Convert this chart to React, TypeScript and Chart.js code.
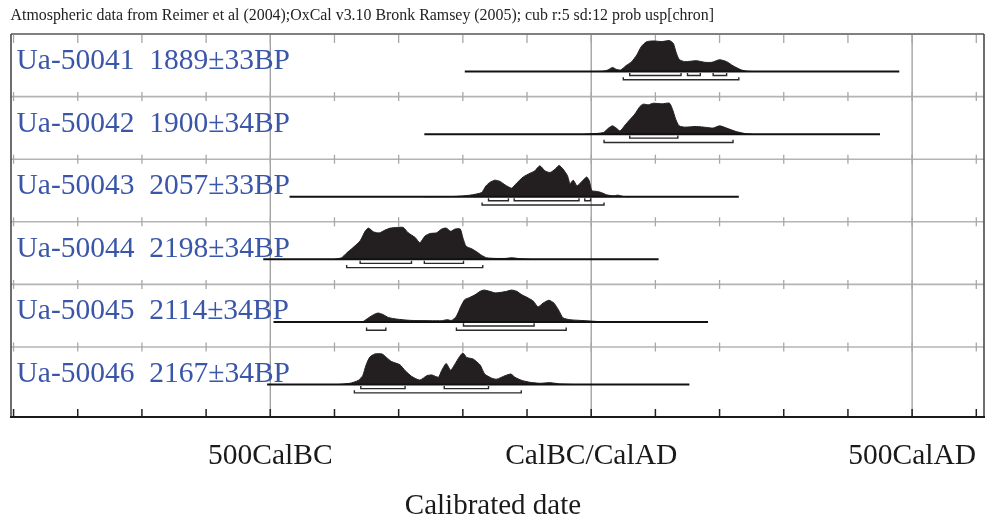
import { useEffect, useRef } from 'react';
import { Chart, registerables } from 'chart.js';

Chart.register(...registerables);

// ---------- data ----------
const titleText =
  'Atmospheric data from Reimer et al (2004);OxCal v3.10 Bronk Ramsey (2005); cub r:5 sd:12 prob usp[chron]';
const sampleNames = ['Ua-50041', 'Ua-50042', 'Ua-50043', 'Ua-50044', 'Ua-50045', 'Ua-50046'];
const sampleAges = ['1889±33BP', '1900±34BP', '2057±33BP', '2198±34BP', '2114±34BP', '2167±34BP'];
const axisTickValues = [-500, 0, 500];
const axisTickLabels = ['500CalBC', 'CalBC/CalAD', '500CalAD'];
const axisTitle = 'Calibrated date';
const minorTickYears = [-900, -800, -700, -600, -500, -400, -300, -200, -100, 0, 100, 200, 300, 400, 500, 600];
const xMin = -904;
const xMax = 612;

const years1 = [0, 18, 26, 33, 39, 46, 54, 63, 71, 78, 86, 96, 110, 122, 128, 132, 137, 146, 164, 177, 188, 200, 211, 221, 234, 244, 255];
const prob1 = [0, 0.01, 0.05, 0.13, 0.07, 0.05, 0.18, 0.31, 0.52, 0.78, 0.93, 0.96, 0.94, 0.97, 0.88, 0.62, 0.38, 0.31, 0.34, 0.29, 0.29, 0.37, 0.31, 0.18, 0.05, 0.01, 0];

const years2 = [-10, 0, 19, 27, 33, 39, 45, 53, 60, 68, 76, 81, 89, 97, 110, 122, 127, 132, 137, 146, 164, 180, 190, 200, 211, 226, 242, 250];
const prob2 = [0, 0.01, 0.05, 0.19, 0.26, 0.19, 0.1, 0.29, 0.45, 0.63, 0.87, 0.94, 0.92, 0.97, 0.95, 0.97, 0.76, 0.45, 0.26, 0.22, 0.24, 0.21, 0.19, 0.26, 0.19, 0.08, 0.01, 0];

const years3 = [-260, -212, -189, -171, -164, -158, -150, -142, -134, -124, -116, -106, -95, -88, -80, -72, -64, -56, -50, -44, -37, -33, -28, -22, -15, -7, -3, 1, 8, 16, 24, 34, 42, 50, 60];
const prob3 = [0, 0.01, 0.05, 0.13, 0.34, 0.45, 0.52, 0.48, 0.37, 0.27, 0.43, 0.62, 0.74, 0.81, 0.97, 0.81, 0.76, 0.87, 0.98, 0.87, 0.66, 0.41, 0.52, 0.34, 0.47, 0.62, 0.5, 0.19, 0.17, 0.13, 0.06, 0.03, 0.05, 0.01, 0];

const years4 = [-400, -389, -381, -371, -360, -352, -347, -339, -330, -321, -313, -303, -293, -285, -274, -267, -259, -251, -241, -233, -226, -219, -212, -204, -200, -195, -186, -178, -171, -163, -150, -134, -123, -111, -95];
const prob4 = [0, 0.05, 0.2, 0.37, 0.58, 0.89, 0.98, 0.86, 0.83, 0.92, 0.98, 1.0, 1.0, 0.83, 0.68, 0.52, 0.73, 0.81, 0.83, 0.95, 0.98, 0.88, 0.95, 0.95, 0.68, 0.41, 0.33, 0.23, 0.13, 0.05, 0.03, 0.03, 0.05, 0.02, 0];

const years5 = [-365, -355, -347, -339, -332, -324, -316, -303, -282, -251, -233, -225, -217, -210, -203, -197, -189, -181, -173, -167, -158, -150, -140, -132, -124, -116, -108, -98, -90, -83, -75, -66, -58, -51, -44, -33, -18, -2, 14, 29];
const prob5 = [0, 0.02, 0.13, 0.23, 0.28, 0.23, 0.14, 0.09, 0.05, 0.04, 0.04, 0.07, 0.05, 0.18, 0.49, 0.7, 0.77, 0.85, 0.96, 1.0, 0.96, 0.91, 0.93, 0.96, 1.0, 0.96, 0.85, 0.75, 0.65, 0.47, 0.59, 0.68, 0.59, 0.38, 0.13, 0.07, 0.05, 0.03, 0.01, 0];

const years6 = [-395, -376, -363, -356, -351, -345, -337, -326, -319, -311, -298, -290, -280, -267, -256, -248, -238, -233, -226, -219, -212, -206, -200, -194, -184, -173, -166, -155, -147, -134, -125, -119, -108, -95, -80, -64, -49, -25];
const prob6 = [0, 0.04, 0.13, 0.28, 0.6, 0.86, 0.96, 0.96, 0.85, 0.72, 0.62, 0.44, 0.26, 0.14, 0.28, 0.3, 0.23, 0.44, 0.66, 0.45, 0.65, 0.85, 0.99, 0.85, 0.8, 0.61, 0.33, 0.2, 0.17, 0.28, 0.33, 0.23, 0.13, 0.07, 0.04, 0.06, 0.02, 0];

const rowYears = [years1, years2, years3, years4, years5, years6];
const rowProbs = [prob1, prob2, prob3, prob4, prob5, prob6];

// extent of the plotted (thin) range line for each sample
const rangeStart = [-197, -260, -470, -511, -495, -505];
const rangeEnd = [480, 450, 230, 105, 182, 153];

// 68.2% and 95.4% highest-probability ranges
const ranges68 = [
  [[60, 140], [150, 170], [190, 211]],
  [[60, 135]],
  [[-160, -129], [-120, -19], [-10, -1]],
  [[-360, -280], [-260, -199]],
  [[-199, -89]],
  [[-359, -290], [-229, -160]],
];
const ranges95 = [
  [[50, 230]],
  [[20, 221]],
  [[-170, 20]],
  [[-381, -169]],
  [[-350, -320], [-210, -39]],
  [[-369, -109]],
];

// ---------- layout constants (row units) ----------
const ROWS = 6;
const Y_MAX = 6.118;
const BASE_OFFSET = 0.6;
const PEAK = 0.51;
const B68 = 0.064;
const B95 = 0.132;
const BT = 0.042;

function bracketData(ranges: number[][], y: number) {
  const pts: { x: number; y: number | null }[] = [];
  ranges.forEach(([a, b]) => {
    pts.push({ x: a, y: y - BT }, { x: a, y }, { x: b, y }, { x: b, y: y - BT }, { x: b, y: null });
  });
  return pts;
}

function buildDatasets() {
  const ds: any[] = [];
  for (let r = 0; r < ROWS; r++) {
    const base = r + BASE_OFFSET;
    ds.push({
      data: [
        { x: rangeStart[r], y: base },
        { x: rangeEnd[r], y: base },
      ],
      borderColor: '#111111',
      borderWidth: 2,
      pointRadius: 0,
      fill: false,
    });
    ds.push({
      data: rowYears[r].map((x, k) => ({ x, y: base - rowProbs[r][k] * PEAK })),
      borderColor: '#231f20',
      backgroundColor: '#231f20',
      borderWidth: 1,
      pointRadius: 0,
      tension: 0.2,
      fill: { value: base },
    });
    ds.push({
      data: bracketData(ranges68[r], base + B68),
      borderColor: '#2a2a2a',
      borderWidth: 1.4,
      pointRadius: 0,
      fill: false,
      spanGaps: false,
    });
    ds.push({
      data: bracketData(ranges95[r], base + B95),
      borderColor: '#2a2a2a',
      borderWidth: 1.4,
      pointRadius: 0,
      fill: false,
      spanGaps: false,
    });
  }
  return ds;
}

function seg(ctx: CanvasRenderingContext2D, x1: number, y1: number, x2: number, y2: number) {
  ctx.beginPath();
  ctx.moveTo(x1, y1);
  ctx.lineTo(x2, y2);
  ctx.stroke();
}

const oxcalPlugin = {
  id: 'oxcalDecor',
  beforeDatasetsDraw(chart: any) {
    const { ctx, chartArea: a, scales } = chart;
    const xs = scales.x;
    const ys = scales.y;
    ctx.save();
    // major vertical lines
    ctx.strokeStyle = '#9c9c9c';
    ctx.lineWidth = 1.3;
    axisTickValues.forEach((v) => {
      const px = xs.getPixelForValue(v);
      seg(ctx, px, a.top, px, a.bottom);
    });
    // row separators
    ctx.strokeStyle = '#b4b4b4';
    ctx.lineWidth = 1.6;
    for (let r = 1; r < ROWS; r++) {
      const py = ys.getPixelForValue(r);
      seg(ctx, a.left, py, a.right, py);
    }
    // ticks
    ctx.strokeStyle = '#a8a8a8';
    ctx.lineWidth = 1.3;
    minorTickYears.forEach((t) => {
      const px = xs.getPixelForValue(t);
      seg(ctx, px, a.top, px, a.top + 9);
      for (let r = 1; r < ROWS; r++) {
        const py = ys.getPixelForValue(r);
        seg(ctx, px, py - 4.5, px, py + 4.5);
      }
    });
    ctx.strokeStyle = '#222222';
    ctx.lineWidth = 1.5;
    minorTickYears.forEach((t) => {
      const px = xs.getPixelForValue(t);
      seg(ctx, px, a.bottom - 8, px, a.bottom);
    });
    ctx.restore();
  },
  afterDatasetsDraw(chart: any) {
    const { ctx, chartArea: a, scales } = chart;
    const xs = scales.x;
    const ys = scales.y;
    ctx.save();
    // frame
    ctx.strokeStyle = '#808080';
    ctx.lineWidth = 2;
    seg(ctx, a.left, a.top, a.right, a.top);
    ctx.strokeStyle = '#4a4a4a';
    ctx.lineWidth = 1.6;
    seg(ctx, a.left, a.top, a.left, a.bottom);
    seg(ctx, a.right, a.top, a.right, a.bottom);
    ctx.strokeStyle = '#1a1a1a';
    ctx.lineWidth = 2;
    seg(ctx, a.left - 1, a.bottom, a.right + 1, a.bottom);

    // title
    ctx.fillStyle = '#222222';
    ctx.textBaseline = 'alphabetic';
    ctx.textAlign = 'left';
    ctx.font = '15.9px "Liberation Serif", "Times New Roman", serif';
    ctx.fillText(titleText, 10.5, 20);

    // row labels
    ctx.fillStyle = '#3a56a8';
    ctx.font = '29.5px "Liberation Serif", "Times New Roman", serif';
    for (let r = 0; r < ROWS; r++) {
      const py = ys.getPixelForValue(r) + 35;
      ctx.fillText(sampleNames[r] + '  ' + sampleAges[r], 16.5, py);
    }

    // axis labels
    ctx.fillStyle = '#1a1a1a';
    ctx.textAlign = 'center';
    ctx.font = '29.5px "Liberation Serif", "Times New Roman", serif';
    axisTickValues.forEach((v, i) => {
      ctx.fillText(axisTickLabels[i], xs.getPixelForValue(v), a.bottom + 47);
    });
    ctx.font = '29px "Liberation Serif", "Times New Roman", serif';
    ctx.fillText(axisTitle, chart.width / 2, a.bottom + 97);
    ctx.restore();
  },
};

export default function App() {
  const ref = useRef<HTMLCanvasElement | null>(null);
  useEffect(() => {
    if (!ref.current) return;
    const chart = new Chart(ref.current, {
      type: 'line',
      data: { datasets: buildDatasets() },
      options: {
        animation: false,
        responsive: false,
        devicePixelRatio: 1,
        parsing: true,
        layout: { padding: { left: 11, right: 2, top: 34, bottom: 101 } },
        plugins: { legend: { display: false }, tooltip: { enabled: false }, title: { display: false } },
        scales: {
          x: { type: 'linear', min: xMin, max: xMax, display: false },
          y: { type: 'linear', min: 0, max: Y_MAX, reverse: true, display: false },
        },
      },
      plugins: [oxcalPlugin],
    });
    return () => chart.destroy();
  }, []);
  return (
    <div style={{ position: 'fixed', left: 0, top: 0, width: 986, height: 518, background: '#ffffff' }}>
      <canvas ref={ref} width={986} height={518} style={{ display: 'block' }} />
    </div>
  );
}
